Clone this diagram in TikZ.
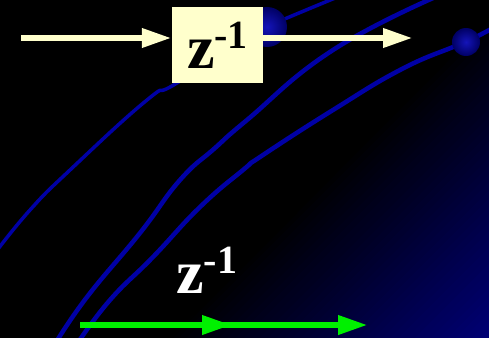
\documentclass[tikz,border=0pt]{standalone}
\usepackage{fontspec}
\setmainfont{Liberation Serif}
\usetikzlibrary{arrows.meta}
\definecolor{cream}{RGB}{255,255,204}
\definecolor{curveblue}{RGB}{0,0,165}
\definecolor{gradend}{RGB}{0,0,118}
\definecolor{arrowgreen}{RGB}{0,240,0}
\definecolor{balllight}{RGB}{20,20,185}
\definecolor{balldark}{RGB}{0,0,100}
\tikzset{
  curve/.style={curveblue, line width=4.5pt, line cap=round},
  sphere/.style={inner color=balllight, outer color=balldark},
  zlabel/.style={font=\bfseries\fontsize{62}{62}\selectfont, inner sep=0pt},
  delaybox/.style={fill=cream, minimum width=91pt, minimum height=76pt, inner sep=0pt, zlabel, text=black},
  creamarrow/.style={cream, line width=6.5pt, -{Triangle[length=30pt,width=18pt]}},
  greenarrow/.style={arrowgreen, line width=6.5pt, -{Triangle[length=30pt,width=18pt]}},
}
\newcommand{\zinv}{z\raisebox{20pt}{\fontsize{40}{40}\selectfont -1}}
\begin{document}
\begin{tikzpicture}[x=1pt,y=-1pt]
\useasboundingbox (0,0) rectangle (489,337);
\fill[black] (-10,-10) rectangle (499,347);
\begin{scope}
  \clip (-10,-10) rectangle (499,347);
  \foreach \i in {0,...,40}{
    \pgfmathsetmacro{\s}{500+\i*8.15}
    \pgfmathsetmacro{\p}{\i*2.5}
    \fill[gradend!\p!black] (\s+100,-100) -- (1200,-100) -- (1200,600) -- (\s-600,600) -- cycle;
  }
  \draw[black, line width=1.2pt] (170,340) -- (466,42) -- (495,14);
  \draw[curve, line width=3.5pt] plot[smooth, tension=0.8] coordinates {(-5,253) (30,210) (70,170) (147,100) (177,83) (267,27) (287,18) (340,-4)};
  \draw[curve] plot[smooth, tension=0.8] coordinates {(55,344) (87,297) (140,233) (180,180) (215,148) (247,120) (333,50) (440,-5)};
  \draw[curve] plot[smooth, tension=0.8] coordinates {(77,344) (110,300) (153,257) (200,207) (243,170) (263,155) (333,110) (400,70) (453,47) (466,42) (495,27)};
  \shade[sphere] (267,27) circle (20);
  \shade[sphere] (466,42) circle (14);
\end{scope}
\node[delaybox] (box) at (217.5,45) {\zinv};
\coordinate (in) at (21,38);
\coordinate (out) at (413,38);
\draw[creamarrow] (in) -- (in -| box.west);
\draw[creamarrow] (out -| box.east) -- (out);
\coordinate (g0) at (80,325);
\coordinate (g1) at (232,325);
\coordinate (g2) at (368,325);
\draw[greenarrow] ([xshift=-12pt]g1) -- (g2);
\draw[greenarrow] (g0) -- (g1);
\node[zlabel, text=white, anchor=base west] (lbl) at (176,293) {\zinv};
\end{tikzpicture}
\end{document}
